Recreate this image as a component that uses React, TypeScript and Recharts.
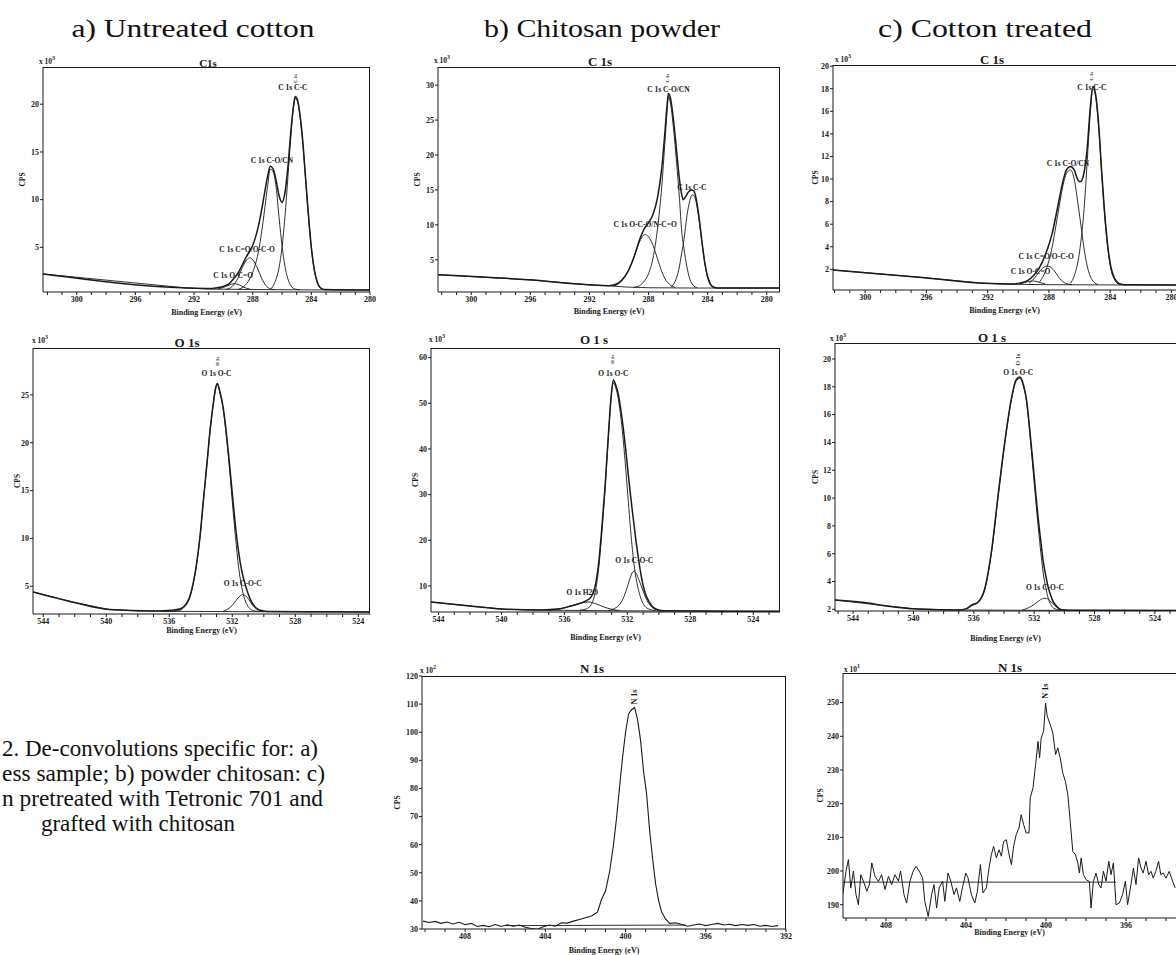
import React from "react";
import { LineChart, Line, XAxis, YAxis, ReferenceDot } from "recharts";

type Pt = [number, number]; // [binding energy (eV), counts]

// ---------- a) untreated cotton — C 1s
const aC1sBackground: Pt[] = [[302.3, 2.21], [292.5, 0.74], [291, 0.63], [288, 0.58], [284, 0.54], [280, 0.53]];
const aC1sEnvelope: Pt[] = [
  [302.3, 2.21], [292.5, 0.74], [291.0, 0.68], [290.4, 0.78], [290.0, 0.9], [289.6, 1.2], [289.25, 1.8],
  [289.0, 2.3], [288.7, 3.2], [288.4, 4.1], [288.2, 4.6], [287.9, 5.6], [287.6, 7.3], [287.3, 9.7],
  [287.0, 12.3], [286.8, 13.5], [286.6, 13.2], [286.4, 12.0], [286.2, 10.4], [286.0, 9.7], [285.8, 10.7],
  [285.6, 13.4], [285.4, 17.1], [285.2, 20.0], [285.1, 20.8], [284.95, 20.5], [284.8, 19.2], [284.6, 16.4],
  [284.4, 12.4], [284.2, 8.4], [284.0, 5.0], [283.8, 2.7], [283.6, 1.4], [283.4, 0.8], [283.1, 0.58], [280, 0.53],
];
const aC1sCC: Pt[] = [
  [286.8, 0.6], [286.5, 1.3], [286.2, 2.9], [286.0, 5.0], [285.8, 8.2], [285.6, 12.3], [285.4, 16.6],
  [285.2, 19.9], [285.1, 20.6], [284.95, 20.3], [284.8, 19.0], [284.6, 16.2], [284.4, 12.3], [284.2, 8.3],
  [284.0, 4.9], [283.8, 2.6], [283.6, 1.3], [283.4, 0.75], [283.1, 0.56],
];
const aC1sCO: Pt[] = [
  [289.0, 0.6], [288.6, 0.9], [288.2, 1.7], [287.9, 2.8], [287.6, 4.6], [287.3, 7.6], [287.0, 11.2],
  [286.8, 13.2], [286.6, 12.9], [286.4, 11.3], [286.2, 8.1], [286.0, 5.2], [285.8, 3.0], [285.6, 1.7],
  [285.4, 1.0], [285.1, 0.62], [284.8, 0.56],
];
const aC1sCdO: Pt[] = [
  [289.8, 0.6], [289.4, 0.9], [289.0, 1.8], [288.7, 2.9], [288.4, 3.7], [288.2, 3.9], [288.0, 3.7],
  [287.7, 2.9], [287.4, 1.8], [287.1, 1.0], [286.8, 0.65], [286.5, 0.57],
];
const aC1sOCdO: Pt[] = [[290.4, 0.62], [290.0, 0.8], [289.6, 1.05], [289.25, 1.2], [288.9, 1.05], [288.6, 0.82], [288.2, 0.62]];

// ---------- b) chitosan powder — C 1s
const bC1sBackground: Pt[] = [[302.25, 2.86], [296.1, 2.14], [292.1, 1.43], [290.7, 1.28], [289.5, 1.1], [288, 1.0], [285, 0.96], [279.1, 0.95]];
const bC1sEnvelope: Pt[] = [
  [302.25, 2.86], [296.1, 2.14], [292.1, 1.43], [290.7, 1.3], [290.2, 1.5], [289.8, 2.1], [289.4, 3.3],
  [289.0, 5.3], [288.6, 7.9], [288.3, 9.4], [288.0, 10.3], [287.7, 11.5], [287.4, 13.8], [287.1, 18.2],
  [286.9, 23.0], [286.75, 27.0], [286.65, 28.8], [286.5, 28.0], [286.3, 24.8], [286.1, 20.6], [285.9, 16.4],
  [285.75, 14.3], [285.64, 13.6], [285.5, 14.0], [285.3, 14.7], [285.1, 15.0], [284.95, 14.9], [284.8, 14.0],
  [284.6, 11.4], [284.4, 7.9], [284.2, 4.7], [284.0, 2.6], [283.8, 1.5], [283.6, 1.1], [283.3, 0.97], [279.1, 0.95],
];
const bC1sCO: Pt[] = [
  [289.0, 1.05], [288.6, 1.3], [288.3, 1.9], [288.0, 3.0], [287.7, 5.2], [287.4, 9.3], [287.1, 15.6],
  [286.9, 21.5], [286.75, 26.0], [286.65, 28.4], [286.5, 27.2], [286.3, 23.6], [286.1, 18.9], [285.9, 13.6],
  [285.75, 9.0], [285.6, 6.6], [285.4, 4.0], [285.2, 2.2], [285.0, 1.4], [284.7, 1.0],
];
const bC1sCC: Pt[] = [
  [286.5, 1.1], [286.2, 1.9], [285.95, 3.6], [285.75, 6.0], [285.6, 7.9], [285.4, 11.3], [285.2, 13.5],
  [285.05, 14.3], [284.9, 14.1], [284.7, 12.4], [284.5, 9.4], [284.3, 6.1], [284.1, 3.4], [283.9, 1.8],
  [283.7, 1.15], [283.4, 0.96],
];
const bC1sOCO: Pt[] = [
  [290.4, 1.25], [290.0, 1.6], [289.6, 2.6], [289.2, 4.2], [288.9, 5.9], [288.6, 7.6], [288.35, 8.5],
  [288.2, 8.6], [288.0, 8.3], [287.7, 7.1], [287.4, 5.2], [287.1, 3.3], [286.8, 2.0], [286.5, 1.35], [286.2, 1.05],
];

// ---------- c) treated cotton — C 1s
const cC1sBackground: Pt[] = [[302.1, 1.94], [296.1, 1.26], [292.2, 0.76], [290.5, 0.68], [288, 0.64], [284, 0.62], [279.7, 0.61]];
const cC1sEnvelope: Pt[] = [
  [302.1, 1.94], [296.1, 1.26], [292.2, 0.76], [290.5, 0.7], [289.9, 0.78], [289.4, 1.0], [289.0, 1.45],
  [288.6, 2.2], [288.2, 3.4], [287.8, 5.1], [287.4, 7.7], [287.1, 9.7], [286.85, 10.8], [286.59, 11.1],
  [286.35, 10.8], [286.1, 9.9], [285.95, 9.75], [285.7, 10.6], [285.5, 12.7], [285.3, 16.3], [285.13, 18.2],
  [284.95, 17.5], [284.75, 14.8], [284.55, 10.6], [284.36, 7.0], [284.15, 4.0], [283.95, 2.2], [283.71, 1.2],
  [283.4, 0.72], [283.0, 0.63], [279.7, 0.61],
];
const cC1sCC: Pt[] = [
  [286.6, 0.75], [286.35, 1.4], [286.1, 2.7], [285.9, 4.6], [285.7, 7.4], [285.5, 11.5], [285.3, 15.8],
  [285.13, 18.0], [284.95, 17.3], [284.75, 14.6], [284.55, 10.4], [284.36, 6.8], [284.15, 3.8], [283.95, 2.0],
  [283.71, 1.1], [283.4, 0.7], [283.0, 0.62],
];
const cC1sCO: Pt[] = [
  [288.6, 0.9], [288.2, 1.9], [287.8, 3.9], [287.4, 7.0], [287.1, 9.3], [286.85, 10.5], [286.59, 10.8],
  [286.35, 10.0], [286.1, 7.8], [285.9, 5.8], [285.7, 3.8], [285.5, 2.3], [285.3, 1.4], [285.05, 0.85], [284.8, 0.66],
];
const cC1sCdO: Pt[] = [[289.3, 0.75], [288.9, 1.3], [288.5, 2.0], [288.1, 2.3], [287.7, 1.95], [287.3, 1.2], [286.9, 0.75], [286.5, 0.64]];
const cC1sOCdO: Pt[] = [[289.9, 0.7], [289.45, 0.88], [289.05, 0.97], [288.65, 0.86], [288.25, 0.71]];

// ---------- a) O 1s
const aO1sBackground: Pt[] = [[544.65, 4.41], [542, 3.3], [539.8, 2.57], [538, 2.42], [536, 2.38], [532, 2.35], [528, 2.33], [523.26, 2.32]];
const aO1sEnvelope: Pt[] = [
  [544.65, 4.41], [542, 3.3], [539.8, 2.57], [537, 2.42], [535.8, 2.5], [535.3, 2.65], [535.0, 3.0],
  [534.7, 3.9], [534.5, 5.2], [534.3, 7.0], [534.05, 10.2], [533.84, 13.9], [533.6, 18.0], [533.4, 21.5],
  [533.2, 24.2], [533.05, 25.8], [532.95, 26.2], [532.8, 25.4], [532.57, 23.6], [532.35, 20.6], [532.15, 17.3],
  [531.95, 13.8], [531.8, 11.3], [531.6, 8.6], [531.4, 6.6], [531.2, 5.3], [531.0, 4.25], [530.8, 3.45],
  [530.5, 2.75], [530.1, 2.45], [529.5, 2.35], [523.26, 2.32],
];
const aO1sOC: Pt[] = [
  [536.5, 2.38], [535.5, 2.42], [535.0, 2.9], [534.7, 3.8], [534.5, 5.1], [534.3, 6.9], [534.05, 10.1],
  [533.84, 13.8], [533.6, 17.9], [533.4, 21.4], [533.2, 24.1], [533.05, 25.7], [532.95, 26.1], [532.8, 25.3],
  [532.57, 23.4], [532.35, 20.3], [532.15, 16.8], [531.95, 12.9], [531.8, 10.2], [531.6, 7.0], [531.4, 4.9],
  [531.2, 3.6], [531.0, 2.9], [530.8, 2.55], [530.5, 2.4], [530.0, 2.35],
];
const aO1sCOC: Pt[] = [
  [532.6, 2.37], [532.3, 2.6], [532.0, 3.0], [531.7, 3.65], [531.5, 4.0], [531.34, 4.13], [531.15, 4.0],
  [530.95, 3.6], [530.7, 3.0], [530.45, 2.6], [530.1, 2.4],
];

// ---------- b) O 1s
const bO1sBackground: Pt[] = [[544.48, 6.5], [542, 5.6], [539.77, 4.9], [538, 4.7], [536, 4.66], [532, 4.55], [528, 4.5], [522.3, 4.44]];
const bO1sEnvelope: Pt[] = [
  [544.48, 6.5], [542, 5.6], [539.77, 4.9], [537.5, 4.75], [536.3, 5.0], [535.6, 5.6], [535.0, 6.2],
  [534.6, 6.8], [534.3, 7.6], [534.05, 9.9], [533.85, 14.2], [533.65, 21.5], [533.42, 31.7], [533.2, 43.4],
  [533.05, 50.8], [532.89, 55.1], [532.75, 54.1], [532.57, 51.9], [532.4, 48.2], [532.25, 44.3], [532.1, 39.7],
  [531.94, 34.3], [531.8, 29.9], [531.68, 26.3], [531.5, 21.2], [531.3, 16.1], [531.1, 11.8], [530.9, 8.8],
  [530.6, 6.4], [530.2, 4.95], [529.7, 4.55], [522.3, 4.44],
];
const bO1sOC: Pt[] = [
  [535.0, 4.7], [534.6, 5.0], [534.3, 5.9], [534.05, 8.5], [533.85, 13.0], [533.65, 20.5], [533.42, 31.0],
  [533.2, 43.0], [533.05, 50.5], [532.89, 54.5], [532.75, 53.5], [532.57, 50.8], [532.4, 46.5], [532.25, 41.5],
  [532.1, 35.5], [531.94, 28.5], [531.8, 22.5], [531.68, 18.0], [531.5, 12.8], [531.3, 9.2], [531.1, 6.9],
  [530.9, 5.6], [530.6, 4.9], [530.2, 4.6],
];
const bO1sCOC: Pt[] = [
  [533.2, 4.6], [532.8, 5.1], [532.5, 5.9], [532.2, 7.8], [532.0, 9.8], [531.8, 12.0], [531.62, 13.2],
  [531.45, 12.8], [531.25, 11.2], [531.0, 8.9], [530.75, 6.8], [530.45, 5.4], [530.05, 4.7], [529.7, 4.5],
];
const bO1sH2O: Pt[] = [[537.0, 4.7], [536.3, 4.95], [535.7, 5.5], [535.1, 6.1], [534.48, 6.5], [534.0, 6.1], [533.5, 5.4], [533.0, 4.9], [532.5, 4.6]];

// ---------- c) O 1s
const cO1sBackground: Pt[] = [[545.2, 2.67], [541.9, 2.26], [539.7, 2.02], [537, 1.95], [532, 1.93], [522.6, 1.92]];
const cO1sEnvelope: Pt[] = [
  [545.2, 2.67], [543, 2.45], [541.9, 2.26], [539.7, 2.02], [537, 1.96], [536.5, 2.05], [536.15, 2.3],
  [535.7, 2.55], [535.27, 3.5], [534.83, 6.15], [534.39, 10.2], [533.94, 14.1], [533.5, 17.2], [533.2, 18.5],
  [532.95, 18.7], [532.7, 18.1], [532.5, 17.0], [532.3, 15.0], [532.07, 12.4], [531.9, 10.4], [531.73, 8.5],
  [531.55, 6.8], [531.4, 5.45], [531.2, 4.25], [531.07, 3.6], [530.9, 3.0], [530.74, 2.55], [530.5, 2.2],
  [530.2, 1.97], [529, 1.93], [522.6, 1.92],
];
const cO1sOC: Pt[] = [
  [536.5, 2.0], [536.15, 2.25], [535.7, 2.5], [535.27, 3.45], [534.83, 6.1], [534.39, 10.1], [533.94, 14.0],
  [533.5, 17.1], [533.2, 18.4], [532.95, 18.6], [532.7, 18.0], [532.5, 16.9], [532.3, 14.8], [532.07, 12.0],
  [531.9, 9.9], [531.73, 7.9], [531.55, 6.0], [531.4, 4.6], [531.2, 3.4], [531.07, 2.8], [530.9, 2.35],
  [530.74, 2.1], [530.3, 1.95],
];
const cO1sCOC: Pt[] = [
  [532.8, 1.94], [532.4, 2.1], [532.0, 2.35], [531.7, 2.6], [531.45, 2.77], [531.29, 2.8], [531.05, 2.72],
  [530.8, 2.45], [530.5, 2.15], [530.2, 1.97],
];

// ---------- b) N 1s
const bN1sSpectrum: Pt[] = [
  [410.1, 32.8], [409.8, 32.3], [409.5, 32.7], [409.2, 32.0], [408.9, 32.5], [408.6, 31.8], [408.3, 32.4],
  [408.0, 31.5], [407.7, 32.0], [407.4, 30.9], [407.1, 31.3], [406.8, 30.8], [406.5, 31.6], [406.2, 30.9],
  [405.9, 31.5], [405.6, 31.0], [405.3, 31.4], [405.0, 30.6], [404.7, 30.2], [404.4, 29.9], [404.1, 30.8],
  [403.8, 31.4], [403.5, 31.0], [403.2, 32.2], [402.9, 32.1], [402.6, 32.8], [402.3, 33.4], [402.0, 34.0],
  [401.7, 34.6], [401.4, 36.0], [401.2, 40.5], [401.0, 43.5], [400.8, 50.2], [400.6, 60.0], [400.45, 69.5],
  [400.3, 80.5], [400.15, 91.0], [400.0, 100.0], [399.85, 106.5], [399.7, 108.0], [399.55, 108.8],
  [399.4, 104.5], [399.25, 97.0], [399.1, 86.0], [398.95, 78.0], [398.8, 65.0], [398.65, 55.0], [398.5, 46.0],
  [398.35, 40.0], [398.2, 36.0], [398.0, 33.5], [397.8, 32.0], [397.5, 32.2], [397.2, 31.6], [396.9, 31.0],
  [396.6, 31.4], [396.3, 31.8], [396.0, 31.2], [395.7, 31.6], [395.4, 32.0], [395.1, 31.4], [394.8, 31.7],
  [394.5, 31.2], [394.2, 31.6], [393.9, 31.3], [393.6, 31.6], [393.3, 31.0], [393.0, 31.3], [392.7, 30.9],
  [392.4, 31.2],
];
const bN1sBaseline: Pt[] = [[406.0, 31.2], [397.0, 31.4]];

// ---------- c) N 1s
const cN1sSpectrum: Pt[] = [
  [410.16, 193.0], [410.0, 199.9], [409.88, 203.4], [409.76, 195.0], [409.63, 200.0], [409.5, 193.0],
  [409.38, 190.0], [409.26, 198.9], [409.13, 197.0], [408.96, 194.0], [408.83, 196.0], [408.71, 202.4],
  [408.55, 198.4], [408.38, 196.9], [408.22, 198.9], [408.05, 194.5], [407.88, 198.4], [407.72, 196.0],
  [407.55, 198.9], [407.38, 197.0], [407.27, 200.0], [407.1, 193.0], [406.97, 190.5], [406.8, 197.0],
  [406.64, 200.0], [406.5, 201.4], [406.34, 200.0], [406.17, 198.0], [406.06, 191.0], [405.89, 186.5],
  [405.72, 193.0], [405.6, 196.0], [405.47, 189.0], [405.34, 195.0], [405.17, 197.0], [405.06, 191.0],
  [404.9, 199.4], [404.76, 197.0], [404.6, 193.0], [404.48, 195.0], [404.31, 191.0], [404.18, 195.0],
  [404.01, 199.4], [403.9, 198.0], [403.73, 193.0], [403.56, 190.5], [403.43, 194.0], [403.28, 201.9],
  [403.15, 193.5], [402.98, 195.0], [402.85, 200.9], [402.73, 204.9], [402.62, 207.3], [402.48, 203.9],
  [402.35, 206.3], [402.23, 204.4], [402.12, 208.8], [401.98, 209.3], [401.85, 204.9], [401.73, 201.9],
  [401.62, 207.3], [401.49, 210.8], [401.35, 212.8], [401.24, 216.7], [401.12, 213.8], [400.99, 211.3],
  [400.85, 211.3], [400.79, 221.7], [400.65, 224.7], [400.52, 231.6], [400.4, 238.5], [400.32, 233.6],
  [400.24, 239.5], [400.12, 241.5], [400.02, 249.9], [399.94, 246.0], [399.79, 243.5], [399.66, 241.0],
  [399.52, 234.6], [399.41, 236.6], [399.29, 233.6], [399.16, 229.1], [399.03, 226.6], [398.91, 222.7],
  [398.79, 214.8], [398.66, 205.8], [398.53, 204.9], [398.41, 202.4], [398.33, 199.4], [398.24, 203.9],
  [398.13, 198.9], [397.99, 197.4], [397.83, 196.9], [397.75, 189.0], [397.63, 196.9], [397.5, 199.4],
  [397.36, 196.0], [397.25, 195.0], [397.13, 199.9], [397.0, 197.0], [396.86, 202.9], [396.75, 198.9],
  [396.63, 202.4], [396.5, 190.0], [396.33, 190.5], [396.17, 193.0], [396.03, 197.0], [395.92, 190.0],
  [395.75, 196.0], [395.63, 200.9], [395.5, 196.0], [395.37, 203.9], [395.25, 200.9], [395.14, 199.4],
  [395.0, 202.9], [394.87, 198.9], [394.75, 199.9], [394.64, 197.9], [394.51, 199.9], [394.37, 202.9],
  [394.26, 198.9], [394.14, 199.4], [394.0, 197.9], [393.84, 199.9], [393.67, 197.0], [393.54, 195.0],
];
const cN1sBaseline: Pt[] = [[410.15, 196.7], [396.5, 196.7]];

// tick labels
const c1sXLabels = [300, 296, 292, 288, 284, 280];
const o1sXLabels = [544, 540, 536, 532, 528, 524];
const n1sXLabels = [408, 404, 400, 396, 392];
const aC1sYTicks = [5, 10, 15, 20];
const bC1sYTicks = [5, 10, 15, 20, 25, 30];
const cC1sYTicks = [2, 4, 6, 8, 10, 12, 14, 16, 18, 20];
const aO1sYTicks = [5, 10, 15, 20, 25];
const bO1sYTicks = [10, 20, 30, 40, 50, 60];
const cO1sYTicks = [2, 4, 6, 8, 10, 12, 14, 16, 18, 20];
const bN1sYTicks = [30, 40, 50, 60, 70, 80, 90, 100, 110, 120];
const cN1sYTicks = [190, 200, 210, 220, 230, 240, 250];

const SERIF = '"Liberation Serif", "Times New Roman", serif';
const INK = "#1a1a1a";

type Curve = { pts: Pt[]; w: number; linear?: boolean };
type Note = { x: number; y: number; text: string; size?: number; rot?: boolean };
type PanelSpec = {
  box: [number, number, number, number];
  xDomain: [number, number];
  yDomain: [number, number];
  xLabels: number[];
  yTicks: number[];
  curves: Curve[];
  notes: Note[];
  title: string;
  titlePos: [number, number, number];
  exp: string;
  expPos: [number, number];
  cpsX: number;
  beY: number;
  rightBorder: boolean;
};

const ENV = 1.5;
const COMP = 0.9;

const panels: PanelSpec[] = [
  {
    box: [43, 67, 370, 292], xDomain: [280, 302.3], yDomain: [0.32, 23.9],
    xLabels: c1sXLabels, yTicks: aC1sYTicks,
    curves: [
      { pts: aC1sBackground, w: COMP, linear: true }, { pts: aC1sCC, w: COMP }, { pts: aC1sCO, w: COMP },
      { pts: aC1sCdO, w: COMP }, { pts: aC1sOCdO, w: COMP }, { pts: aC1sEnvelope, w: ENV },
    ],
    notes: [
      { x: 285.26, y: 21.76, text: "C 1s C-C" }, { x: 286.69, y: 14.1, text: "C 1s C-O/CN" },
      { x: 288.38, y: 4.76, text: "C 1s C=O/O-C-O" }, { x: 289.33, y: 2.0, text: "C 1s O-C=O" },
      { x: 285.1, y: 22.7, text: "C 1s", size: 4.5, rot: true },
    ],
    title: "C1s", titlePos: [208, 63, 11], exp: "3", expPos: [47, 61], cpsX: 22, beY: 312, rightBorder: true,
  },
  {
    box: [438, 67, 780, 292], xDomain: [279.1, 302.25], yDomain: [0.39, 32.6],
    xLabels: c1sXLabels, yTicks: bC1sYTicks,
    curves: [
      { pts: bC1sBackground, w: COMP, linear: true }, { pts: bC1sCO, w: COMP }, { pts: bC1sCC, w: COMP },
      { pts: bC1sOCO, w: COMP }, { pts: bC1sEnvelope, w: ENV },
    ],
    notes: [
      { x: 286.65, y: 29.4, text: "C 1s C-O/CN" }, { x: 285.07, y: 15.3, text: "C 1s C-C" },
      { x: 288.23, y: 10.0, text: "C 1s O-C-O/N-C=O" }, { x: 286.7, y: 31.0, text: "C 1s", size: 4.5, rot: true },
    ],
    title: "C 1s", titlePos: [600, 61, 13], exp: "3", expPos: [442, 60], cpsX: 417, beY: 311, rightBorder: true,
  },
  {
    box: [833, 65, 1176, 290], xDomain: [279.7, 302.1], yDomain: [0.17, 20.1],
    xLabels: c1sXLabels, yTicks: cC1sYTicks,
    curves: [
      { pts: cC1sBackground, w: COMP, linear: true }, { pts: cC1sCC, w: COMP }, { pts: cC1sCO, w: COMP },
      { pts: cC1sCdO, w: COMP }, { pts: cC1sOCdO, w: COMP }, { pts: cC1sEnvelope, w: ENV },
    ],
    notes: [
      { x: 285.19, y: 18.1, text: "C 1s C-C" }, { x: 286.76, y: 11.4, text: "C 1s C-O/CN" },
      { x: 288.18, y: 3.15, text: "C 1s C=O/O-C-O" }, { x: 289.2, y: 1.85, text: "C 1s O-C=O" },
      { x: 285.2, y: 19.1, text: "C 1s", size: 4.5, rot: true },
    ],
    title: "C 1s", titlePos: [992, 59, 13], exp: "3", expPos: [843, 59], cpsX: 815, beY: 310, rightBorder: false,
  },
  {
    box: [33, 348, 370, 614], xDomain: [523.26, 544.65], yDomain: [2.1, 29.9],
    xLabels: o1sXLabels, yTicks: aO1sYTicks,
    curves: [
      { pts: aO1sBackground, w: COMP, linear: true }, { pts: aO1sOC, w: COMP }, { pts: aO1sCOC, w: COMP },
      { pts: aO1sEnvelope, w: ENV },
    ],
    notes: [
      { x: 533.0, y: 27.2, text: "O 1s O-C" }, { x: 531.34, y: 5.24, text: "O 1s C-O-C" },
      { x: 532.95, y: 28.5, text: "O 1s", size: 4.5, rot: true },
    ],
    title: "O 1s", titlePos: [187, 342, 13], exp: "3", expPos: [40, 340], cpsX: 17, beY: 630, rightBorder: true,
  },
  {
    box: [431, 348, 780, 612], xDomain: [522.3, 544.48], yDomain: [4.3, 62.1],
    xLabels: o1sXLabels, yTicks: bO1sYTicks,
    curves: [
      { pts: bO1sBackground, w: COMP, linear: true }, { pts: bO1sOC, w: COMP }, { pts: bO1sCOC, w: COMP },
      { pts: bO1sH2O, w: COMP }, { pts: bO1sEnvelope, w: ENV },
    ],
    notes: [
      { x: 532.89, y: 56.6, text: "O 1s O-C" }, { x: 531.56, y: 15.6, text: "O 1s C-O-C" },
      { x: 534.86, y: 8.5, text: "O 1s H2O" }, { x: 532.95, y: 59.6, text: "O 1s", size: 4.5, rot: true },
    ],
    title: "O 1 s", titlePos: [594, 339, 13], exp: "3", expPos: [437, 339], cpsX: 415, beY: 637, rightBorder: true,
  },
  {
    box: [835, 343, 1176, 611], xDomain: [522.6, 545.2], yDomain: [1.88, 21.15],
    xLabels: o1sXLabels, yTicks: cO1sYTicks,
    curves: [
      { pts: cO1sBackground, w: COMP, linear: true }, { pts: cO1sOC, w: COMP }, { pts: cO1sCOC, w: COMP },
      { pts: cO1sEnvelope, w: ENV },
    ],
    notes: [
      { x: 533.06, y: 19.0, text: "O 1s O-C" }, { x: 531.29, y: 3.56, text: "O 1s C-O-C" },
      { x: 533.06, y: 19.95, text: "O 1s", size: 6, rot: true },
    ],
    title: "O 1 s", titlePos: [992, 337, 13], exp: "3", expPos: [838, 338], cpsX: 815, beY: 638, rightBorder: false,
  },
  {
    box: [422, 676, 786, 929], xDomain: [392.0, 410.15], yDomain: [30, 120],
    xLabels: n1sXLabels, yTicks: bN1sYTicks,
    curves: [{ pts: bN1sBaseline, w: COMP, linear: true }, { pts: bN1sSpectrum, w: 1.1, linear: true }],
    notes: [{ x: 399.56, y: 112.5, text: "N 1s", size: 8, rot: true }],
    title: "N 1s", titlePos: [592, 668, 13], exp: "2", expPos: [428, 670], cpsX: 397, beY: 950, rightBorder: true,
  },
  {
    box: [843, 673, 1176, 918], xDomain: [393.5, 410.15], yDomain: [186.05, 258.8],
    xLabels: n1sXLabels, yTicks: cN1sYTicks,
    curves: [{ pts: cN1sBaseline, w: COMP, linear: true }, { pts: cN1sSpectrum, w: 1.0, linear: true }],
    notes: [{ x: 400.04, y: 253.4, text: "N 1s", size: 8, rot: true }],
    title: "N 1s", titlePos: [1010, 667, 13], exp: "1", expPos: [852, 669], cpsX: 820, beY: 932, rightBorder: false,
  },
];

const PAD_L = 50;
const PAD_R = 8;
const PAD_T = 20;
const PAD_B = 34;
const X_AXIS_H = 22;
const Y_AXIS_W = 34;

const tickStyle = { fontSize: 8, fontWeight: 700, fontFamily: SERIF, fill: INK };

function NoteText({ viewBox, note }: { viewBox?: any; note: Note }) {
  if (!viewBox) return null;
  const { x, y } = viewBox;
  const size = note.size ?? 7.5;
  return (
    <text
      x={x}
      y={y}
      transform={note.rot ? `rotate(-90 ${x} ${y})` : undefined}
      textAnchor="middle"
      dominantBaseline="central"
      fontSize={size}
      fontWeight={700}
      fontFamily={SERIF}
      fill={INK}
    >
      {note.text}
    </text>
  );
}

function Panel({ p }: { p: PanelSpec }) {
  const [x0, y0, x1, y1] = p.box;
  const w = x1 - x0;
  const h = y1 - y0;
  // minor ticks every 1 eV, labels only every 4 eV
  const xTicks: number[] = [];
  for (let v = Math.ceil(p.xDomain[0]); v <= Math.floor(p.xDomain[1]); v++) xTicks.push(v);

  return (
    <div style={{ position: "absolute", left: x0 - PAD_L, top: y0 - PAD_T }}>
      <LineChart
        width={w + PAD_L + PAD_R}
        height={h + PAD_T + PAD_B}
        margin={{ top: PAD_T, right: PAD_R, bottom: PAD_B - X_AXIS_H, left: PAD_L - Y_AXIS_W }}
      >
        <XAxis
          type="number"
          dataKey="x"
          domain={p.xDomain}
          reversed
          allowDataOverflow
          ticks={xTicks}
          interval={0}
          tickFormatter={(v: number) => (p.xLabels.includes(v) ? String(v) : "")}
          height={X_AXIS_H}
          tickSize={3}
          tickMargin={1}
          tick={tickStyle}
          stroke={INK}
        />
        <YAxis
          type="number"
          domain={p.yDomain}
          allowDataOverflow
          ticks={p.yTicks}
          interval={0}
          width={Y_AXIS_W}
          tickSize={3}
          tickMargin={1}
          tick={tickStyle}
          stroke={INK}
        />
        {p.curves.map((c, i) => (
          <Line
            key={i}
            data={c.pts.map(([x, y]) => ({ x, y }))}
            dataKey="y"
            type={c.linear ? "linear" : "monotone"}
            stroke={INK}
            strokeWidth={c.w}
            dot={false}
            activeDot={false}
            isAnimationActive={false}
          />
        ))}
        {p.notes.map((n, i) => (
          <ReferenceDot
            key={`n${i}`}
            x={n.x}
            y={n.y}
            r={0}
            stroke="none"
            label={(lp: any) => <NoteText viewBox={lp.viewBox} note={n} />}
          />
        ))}
      </LineChart>
    </div>
  );
}

function Decor({ p }: { p: PanelSpec }) {
  const [x0, y0, x1, y1] = p.box;
  const [tx, ty, ts] = p.titlePos;
  return (
    <g fontFamily={SERIF} fill={INK}>
      <line x1={x0} y1={y0 + 0.5} x2={x1} y2={y0 + 0.5} stroke={INK} strokeWidth={1.2} />
      {p.rightBorder && <line x1={x1 - 0.5} y1={y0} x2={x1 - 0.5} y2={y1} stroke={INK} strokeWidth={1} />}
      <text x={tx} y={ty} textAnchor="middle" dominantBaseline="central" fontSize={ts} fontWeight={700}>
        {p.title}
      </text>
      <text x={p.expPos[0]} y={p.expPos[1]} textAnchor="middle" dominantBaseline="central" fontSize={7.5} fontWeight={700}>
        x 10
        <tspan fontSize={6} dy={-3}>
          {p.exp}
        </tspan>
      </text>
      <text
        x={p.cpsX}
        y={(y0 + y1) / 2}
        transform={`rotate(-90 ${p.cpsX} ${(y0 + y1) / 2})`}
        textAnchor="middle"
        dominantBaseline="central"
        fontSize={7.5}
        fontWeight={700}
      >
        CPS
      </text>
      <text x={(x0 + x1) / 2} y={p.beY} textAnchor="middle" dominantBaseline="central" fontSize={8} fontWeight={700}>
        Binding Energy (eV)
      </text>
    </g>
  );
}

export default function App() {
  return (
    <div
      style={{
        position: "absolute",
        left: 0,
        top: 0,
        width: 1176,
        height: 955,
        overflow: "hidden",
        background: "#ffffff",
      }}
    >
      {panels.map((p, i) => (
        <Panel key={i} p={p} />
      ))}
      <svg width={1176} height={955} style={{ position: "absolute", left: 0, top: 0, pointerEvents: "none" }}>
        <g fontFamily={SERIF} fill="#111" fontSize={26}>
          <text x={193} y={37} textAnchor="middle" textLength={243} lengthAdjust="spacingAndGlyphs">a) Untreated cotton</text>
          <text x={602} y={37} textAnchor="middle" textLength={236} lengthAdjust="spacingAndGlyphs">b) Chitosan powder</text>
          <text x={985} y={37} textAnchor="middle" textLength={214} lengthAdjust="spacingAndGlyphs">c) Cotton treated</text>
        </g>
        <g fontFamily={SERIF} fill="#111" fontSize={23}>
          <text x={2} y={756} textAnchor="start" textLength={316} lengthAdjust="spacingAndGlyphs">2. De-convolutions specific for: a)</text>
          <text x={2} y={781} textAnchor="start" textLength={323} lengthAdjust="spacingAndGlyphs">ess sample; b) powder chitosan: c)</text>
          <text x={2} y={806} textAnchor="start" textLength={321} lengthAdjust="spacingAndGlyphs">n pretreated with Tetronic 701 and</text>
          <text x={138} y={831} textAnchor="middle">grafted with chitosan</text>
        </g>
        {panels.map((p, i) => (
          <Decor key={i} p={p} />
        ))}
      </svg>
    </div>
  );
}
